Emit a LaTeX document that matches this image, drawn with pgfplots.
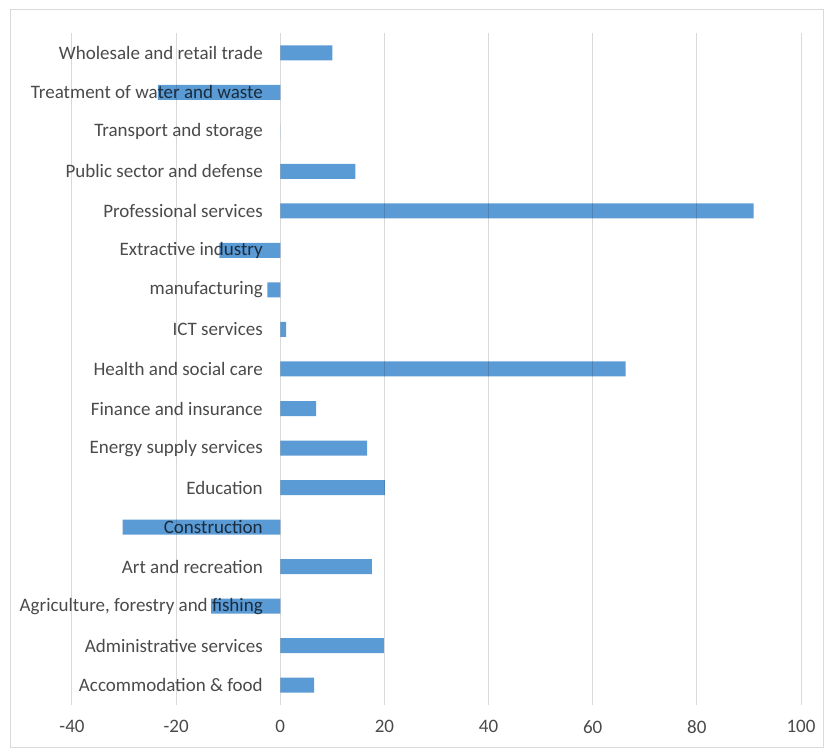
\documentclass[border=0pt]{standalone}
\usepackage{fontspec}
\setmainfont{Carlito}
\usepackage{pgfplots}
\pgfplotsset{compat=1.18}
\definecolor{barblue}{HTML}{5B9BD5}
\definecolor{txt}{HTML}{4A4A4A}
\definecolor{gridc}{HTML}{D9D9D9}
\begin{document}
\begin{tikzpicture}[x=1pt,y=1pt]
\path (0,0) rectangle (825,754);
\draw[gridc, line width=1pt] (10,6) rectangle (823,744);
\begin{axis}[
  at={(72pt,49pt)}, anchor=south west,
  scale only axis, width=729pt, height=672pt,
  xbar, bar width=15pt,
  xmin=-40, xmax=100, ymin=-0.5, ymax=16.5,
  xtick={-40,-20,...,100},
  ytick={0,...,16},
  yticklabels={Accommodation \& food, Administrative services, {Agriculture, forestry and fishing}, Art and recreation, Construction, Education, Energy supply services, Finance and insurance, Health and social care, ICT services, manufacturing, Extractive industry, Professional services, Public sector and defense, Transport and storage, Treatment of water and waste, Wholesale and retail trade},
  axis x line=bottom, axis y line=middle,
  hide obscured x ticks=false, hide obscured y ticks=false,
  axis line style={draw=none},
  major tick length=0pt,
  xmajorgrids, ymajorgrids=false, grid style={gridc, line width=1pt},
  tick label style={font=\fontsize{19}{22}\selectfont, text=txt},
  /pgf/number format/assume math mode=true,
  xticklabel style={yshift=-12pt},
  yticklabel style={xshift=-14pt},
]
\addplot[fill=barblue, draw=none, blend mode=multiply] coordinates {
(6.5,0) (19.9,1) (-13.3,2) (17.6,3) (-30.3,4) (20.1,5) (16.7,6) (6.9,7) (66.3,8) (1.1,9) (-2.5,10) (-11.7,11) (90.9,12) (14.4,13) (0,14) (-23.5,15) (10.0,16)
};
\end{axis}
\end{tikzpicture}
\end{document}
